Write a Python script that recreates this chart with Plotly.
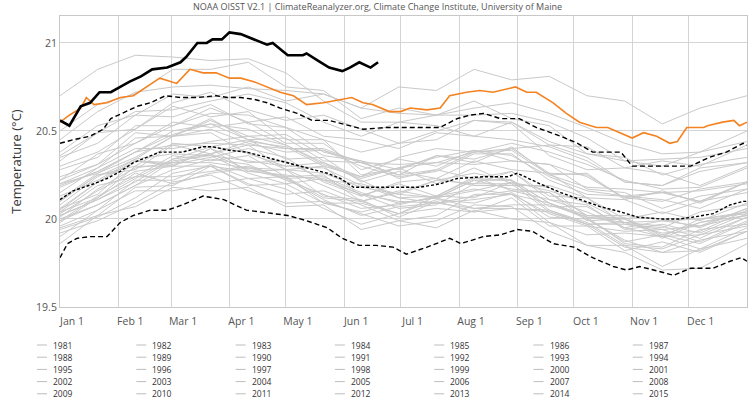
import plotly.graph_objects as go

# ---------------- data ----------------
MONTH_START_DAYS = [0, 31, 59, 90, 120, 151, 181, 212, 243, 273, 304, 334]
MONTH_LABELS = ["Jan 1", "Feb 1", "Mar 1", "Apr 1", "May 1", "Jun 1",
                "Jul 1", "Aug 1", "Sep 1", "Oct 1", "Nov 1", "Dec 1"]
Y_TICKS = [19.5, 20, 20.5, 21]
Y_TICK_LABELS = ["19.5", "20", "20.5", "21"]

# sample days for the grey climatology years
GRAY_DAYS = [0, 20, 40, 60, 80, 100, 120, 140, 160, 180, 200, 220, 240, 260, 280, 300, 320, 340, 365]

Y1981 = [19.98, 20.12, 20.26, 20.20, 20.26, 20.29, 20.24, 20.09, 20.04, 20.09, 20.12, 20.06, 20.08, 20.08, 20.01, 19.86, 19.84, 19.94, 19.97]
Y1982 = [19.95, 20.02, 20.18, 20.19, 20.30, 20.19, 20.20, 20.09, 20.09, 20.03, 20.13, 20.12, 20.21, 20.07, 20.07, 19.95, 19.99, 19.96, 20.06]
Y1983 = [20.08, 20.24, 20.34, 20.37, 20.36, 20.33, 20.30, 20.29, 20.19, 20.12, 20.09, 20.11, 20.14, 20.09, 20.00, 19.88, 19.81, 19.82, 19.93]
Y1984 = [19.92, 19.99, 20.09, 20.21, 20.25, 20.16, 20.09, 20.10, 20.03, 19.96, 19.99, 20.08, 20.07, 19.93, 19.85, 19.81, 19.71, 19.72, 19.86]
Y1985 = [19.86, 20.02, 20.07, 20.18, 20.16, 20.18, 20.07, 20.08, 19.94, 19.99, 19.95, 20.05, 20.00, 19.98, 19.85, 19.85, 19.73, 19.83, 19.89]
Y1986 = [19.90, 20.05, 20.16, 20.16, 20.20, 20.23, 20.17, 20.06, 19.97, 20.03, 20.06, 20.04, 20.06, 20.05, 19.98, 19.85, 19.83, 19.91, 19.96]
Y1987 = [20.02, 20.11, 20.23, 20.34, 20.41, 20.38, 20.28, 20.19, 20.10, 20.15, 20.22, 20.26, 20.22, 20.09, 20.01, 19.98, 19.99, 20.00, 20.03]
Y1988 = [20.06, 20.14, 20.33, 20.30, 20.40, 20.27, 20.28, 20.13, 20.11, 20.01, 20.10, 20.04, 20.12, 19.96, 19.96, 19.82, 19.87, 19.81, 19.93]
Y1989 = [19.94, 20.01, 20.12, 20.26, 20.30, 20.20, 20.14, 20.16, 20.08, 19.99, 20.02, 20.14, 20.14, 19.98, 19.91, 19.92, 19.90, 19.83, 19.95]
Y1990 = [20.04, 20.19, 20.24, 20.36, 20.33, 20.36, 20.24, 20.25, 20.10, 20.16, 20.12, 20.22, 20.17, 20.15, 20.02, 20.00, 19.91, 19.98, 20.04]
Y1991 = [20.03, 20.16, 20.27, 20.30, 20.30, 20.27, 20.25, 20.22, 20.14, 20.10, 20.09, 20.13, 20.16, 20.11, 20.04, 19.95, 19.90, 19.91, 20.01]
Y1992 = [19.99, 20.13, 20.24, 20.24, 20.27, 20.30, 20.23, 20.11, 20.02, 20.07, 20.09, 20.06, 20.06, 20.04, 19.97, 19.84, 19.81, 19.88, 19.93]
Y1993 = [19.96, 20.05, 20.22, 20.22, 20.31, 20.23, 20.24, 20.12, 20.10, 20.03, 20.11, 20.09, 20.15, 20.01, 20.00, 19.87, 19.91, 19.86, 19.98]
Y1994 = [20.02, 20.11, 20.21, 20.34, 20.37, 20.28, 20.23, 20.24, 20.15, 20.09, 20.12, 20.22, 20.22, 20.09, 20.02, 20.02, 20.00, 19.95, 20.06]
Y1995 = [20.10, 20.25, 20.28, 20.42, 20.37, 20.42, 20.28, 20.30, 20.13, 20.20, 20.13, 20.24, 20.16, 20.15, 19.99, 20.00, 19.89, 19.98, 20.02]
Y1996 = [19.99, 20.08, 20.19, 20.28, 20.34, 20.31, 20.22, 20.14, 20.06, 20.08, 20.13, 20.17, 20.14, 20.03, 19.96, 19.93, 19.94, 19.96, 20.02]
Y1997 = [20.05, 20.21, 20.33, 20.32, 20.37, 20.44, 20.41, 20.30, 20.24, 20.35, 20.40, 20.38, 20.40, 20.42, 20.35, 20.21, 20.19, 20.29, 20.32]
Y1998 = [20.35, 20.43, 20.59, 20.58, 20.65, 20.54, 20.52, 20.38, 20.33, 20.23, 20.28, 20.23, 20.27, 20.11, 20.08, 19.94, 19.97, 19.92, 20.03]
Y1999 = [20.00, 20.08, 20.19, 20.33, 20.36, 20.26, 20.20, 20.23, 20.14, 20.06, 20.08, 20.20, 20.20, 20.04, 19.97, 19.98, 19.96, 19.89, 20.01]
Y2000 = [20.01, 20.17, 20.29, 20.32, 20.32, 20.29, 20.28, 20.26, 20.18, 20.14, 20.12, 20.16, 20.21, 20.16, 20.09, 19.98, 19.92, 19.93, 20.05]
Y2001 = [20.10, 20.25, 20.30, 20.43, 20.41, 20.45, 20.34, 20.35, 20.21, 20.27, 20.23, 20.33, 20.28, 20.26, 20.12, 20.11, 20.03, 20.10, 20.15]
Y2002 = [20.18, 20.27, 20.38, 20.50, 20.54, 20.45, 20.40, 20.40, 20.32, 20.25, 20.28, 20.38, 20.39, 20.25, 20.18, 20.17, 20.15, 20.10, 20.21]
Y2003 = [20.24, 20.31, 20.49, 20.47, 20.57, 20.45, 20.46, 20.33, 20.32, 20.25, 20.36, 20.32, 20.41, 20.25, 20.26, 20.11, 20.16, 20.09, 20.21]
Y2004 = [20.19, 20.27, 20.38, 20.48, 20.54, 20.51, 20.42, 20.32, 20.24, 20.29, 20.35, 20.39, 20.36, 20.24, 20.16, 20.13, 20.15, 20.16, 20.20]
Y2005 = [20.22, 20.37, 20.43, 20.55, 20.52, 20.55, 20.43, 20.43, 20.28, 20.34, 20.30, 20.39, 20.33, 20.31, 20.17, 20.15, 20.06, 20.13, 20.17]
Y2006 = [20.15, 20.29, 20.40, 20.40, 20.44, 20.47, 20.42, 20.31, 20.23, 20.29, 20.32, 20.31, 20.33, 20.31, 20.24, 20.12, 20.10, 20.17, 20.21]
Y2007 = [20.20, 20.26, 20.35, 20.47, 20.49, 20.37, 20.30, 20.32, 20.22, 20.12, 20.13, 20.23, 20.22, 20.05, 19.97, 19.97, 19.94, 19.87, 19.99]
Y2008 = [20.04, 20.12, 20.30, 20.30, 20.40, 20.32, 20.33, 20.22, 20.20, 20.14, 20.22, 20.20, 20.27, 20.13, 20.12, 20.00, 20.04, 19.99, 20.09]
Y2009 = [20.11, 20.26, 20.38, 20.42, 20.43, 20.42, 20.40, 20.39, 20.32, 20.31, 20.32, 20.38, 20.43, 20.38, 20.31, 20.22, 20.17, 20.18, 20.29]
Y2010 = [20.33, 20.49, 20.51, 20.64, 20.58, 20.61, 20.45, 20.45, 20.25, 20.29, 20.20, 20.29, 20.20, 20.18, 20.01, 20.01, 19.90, 20.00, 20.04]
Y2011 = [20.06, 20.21, 20.33, 20.31, 20.35, 20.40, 20.35, 20.21, 20.13, 20.21, 20.23, 20.19, 20.19, 20.19, 20.12, 19.97, 19.95, 20.04, 20.08]
Y2012 = [20.13, 20.22, 20.34, 20.47, 20.51, 20.43, 20.38, 20.39, 20.30, 20.24, 20.27, 20.37, 20.37, 20.22, 20.14, 20.13, 20.11, 20.06, 20.17]
Y2013 = [20.20, 20.29, 20.46, 20.47, 20.56, 20.47, 20.48, 20.36, 20.33, 20.28, 20.36, 20.34, 20.40, 20.26, 20.25, 20.12, 20.15, 20.10, 20.21]
Y2014 = [20.22, 20.31, 20.43, 20.53, 20.60, 20.59, 20.52, 20.45, 20.38, 20.43, 20.50, 20.56, 20.55, 20.44, 20.37, 20.33, 20.34, 20.35, 20.40]
Y2015 = [20.38, 20.53, 20.59, 20.71, 20.69, 20.75, 20.67, 20.71, 20.63, 20.75, 20.73, 20.85, 20.79, 20.81, 20.70, 20.67, 20.54, 20.63, 20.70]
Y2016 = [20.70, 20.85, 20.93, 20.92, 20.90, 20.91, 20.83, 20.67, 20.55, 20.55, 20.53, 20.47, 20.45, 20.41, 20.33, 20.21, 20.19, 20.27, 20.32]
Y2017 = [20.30, 20.38, 20.51, 20.66, 20.72, 20.62, 20.56, 20.59, 20.51, 20.43, 20.45, 20.56, 20.54, 20.36, 20.28, 20.29, 20.26, 20.19, 20.30]
Y2018 = [20.28, 20.35, 20.53, 20.53, 20.63, 20.55, 20.58, 20.47, 20.45, 20.40, 20.49, 20.47, 20.55, 20.42, 20.41, 20.29, 20.33, 20.30, 20.42]
Y2019 = [20.45, 20.61, 20.72, 20.75, 20.76, 20.74, 20.73, 20.71, 20.63, 20.60, 20.59, 20.63, 20.66, 20.60, 20.52, 20.43, 20.37, 20.38, 20.50]
Y2020 = [20.50, 20.65, 20.71, 20.85, 20.85, 20.89, 20.75, 20.73, 20.57, 20.63, 20.59, 20.67, 20.57, 20.53, 20.37, 20.35, 20.25, 20.31, 20.35]
Y2021 = [20.36, 20.49, 20.61, 20.62, 20.67, 20.71, 20.66, 20.55, 20.47, 20.55, 20.59, 20.59, 20.60, 20.55, 20.46, 20.33, 20.30, 20.38, 20.44]

GRAY_YEARS = list(range(1981, 2022))
GRAY_SERIES = [Y1981, Y1982, Y1983, Y1984, Y1985, Y1986, Y1987, Y1988, Y1989, Y1990,
               Y1991, Y1992, Y1993, Y1994, Y1995, Y1996, Y1997, Y1998, Y1999, Y2000,
               Y2001, Y2002, Y2003, Y2004, Y2005, Y2006, Y2007, Y2008, Y2009, Y2010,
               Y2011, Y2012, Y2013, Y2014, Y2015, Y2016, Y2017, Y2018, Y2019, Y2020, Y2021]

# 1982-2011 mean
MEAN_DAYS = [0, 7, 18, 25, 32, 39, 46, 53, 65, 76, 81, 90, 99, 110, 121, 131, 142, 149, 156, 166,
             175, 191, 202, 211, 225, 238, 243, 255, 266, 276, 287, 298, 307, 319, 329, 336, 347, 356, 363, 365]
MEAN_VALS = [20.11, 20.16, 20.20, 20.23, 20.27, 20.32, 20.35, 20.38, 20.38, 20.41,
             20.41, 20.39, 20.38, 20.35, 20.32, 20.29, 20.26, 20.23, 20.18, 20.18,
             20.18, 20.18, 20.20, 20.23, 20.24, 20.24, 20.26, 20.20, 20.15, 20.11,
             20.07, 20.04, 20.01, 20.00, 20.00, 20.01, 20.03, 20.08, 20.10, 20.10]

# plus 2 sigma
UPPER_DAYS = [0, 7, 16, 23, 27, 33, 41, 48, 56, 64, 73, 83, 89, 96, 103, 110, 117, 126, 134, 143,
              153, 161, 174, 181, 191, 202, 211, 218, 225, 234, 244, 253, 266, 275, 283, 298, 304, 313, 324, 335,
              345, 354, 363, 365]
UPPER_VALS = [20.43, 20.45, 20.47, 20.51, 20.57, 20.60, 20.64, 20.66, 20.70, 20.69,
              20.69, 20.70, 20.69, 20.69, 20.68, 20.66, 20.63, 20.60, 20.56, 20.56,
              20.53, 20.51, 20.52, 20.52, 20.52, 20.52, 20.57, 20.59, 20.60, 20.57,
              20.57, 20.52, 20.47, 20.43, 20.38, 20.38, 20.30, 20.30, 20.30, 20.30,
              20.35, 20.38, 20.43, 20.42]

# minus 2 sigma
LOWER_DAYS = [0, 4, 9, 16, 25, 32, 39, 48, 57, 65, 76, 87, 99, 113, 121, 131, 142, 150, 159, 168,
              177, 184, 195, 207, 213, 225, 234, 243, 251, 262, 273, 283, 294, 301, 308, 319, 326, 335, 347, 356,
              362, 365]
LOWER_VALS = [19.78, 19.86, 19.89, 19.90, 19.90, 19.98, 20.02, 20.05, 20.05, 20.08,
              20.13, 20.11, 20.05, 20.03, 20.02, 19.99, 19.95, 19.89, 19.85, 19.85,
              19.84, 19.80, 19.84, 19.89, 19.86, 19.90, 19.91, 19.94, 19.93, 19.86,
              19.84, 19.78, 19.73, 19.71, 19.73, 19.70, 19.68, 19.72, 19.72, 19.76,
              19.78, 19.76]

# 2022 (orange)
Y2022_DAYS = [0, 5, 11, 14, 18, 25, 32, 39, 46, 53, 62, 69, 76, 83, 90, 96, 103, 110, 117, 124,
              131, 140, 149, 155, 161, 166, 175, 181, 186, 195, 202, 207, 216, 223, 230, 238, 242, 248, 253, 262,
              269, 276, 282, 285, 291, 298, 304, 310, 317, 324, 328, 333, 342, 344, 352, 358, 361, 365]
Y2022_VALS = [20.55, 20.59, 20.63, 20.69, 20.65, 20.66, 20.69, 20.70, 20.75, 20.80,
              20.77, 20.85, 20.83, 20.83, 20.80, 20.80, 20.78, 20.75, 20.72, 20.70,
              20.65, 20.66, 20.68, 20.69, 20.66, 20.65, 20.61, 20.61, 20.63, 20.62,
              20.63, 20.70, 20.72, 20.73, 20.72, 20.74, 20.75, 20.72, 20.72, 20.66,
              20.60, 20.55, 20.53, 20.52, 20.52, 20.49, 20.46, 20.49, 20.47, 20.43,
              20.44, 20.52, 20.52, 20.53, 20.55, 20.56, 20.53, 20.55]

# 2023 (black, to date)
Y2023_DAYS = [0, 5, 11, 16, 21, 27, 32, 37, 43, 49, 57, 64, 67, 73, 78, 81, 86, 90, 96, 103,
              110, 113, 121, 129, 131, 137, 143, 150, 154, 159, 165, 169]
Y2023_VALS = [20.56, 20.53, 20.64, 20.66, 20.72, 20.72, 20.75, 20.78, 20.81, 20.85,
              20.86, 20.89, 20.92, 21.00, 21.00, 21.02, 21.02, 21.06, 21.05, 21.02,
              20.99, 21.00, 20.93, 20.93, 20.94, 20.90, 20.86, 20.84, 20.86, 20.89,
              20.86, 20.89]

# legend entries visible in the reference picture
LEGEND_YEARS = list(range(1981, 2016))
TITLE_TEXT = "NOAA OISST V2.1 | ClimateReanalyzer.org, Climate Change Institute, University of Maine"
Y_TITLE = "Temperature (°C)"

# ---------------- figure ----------------
FONT = "Open Sans, DejaVu Sans, sans-serif"
GRAY = "#c9c9c9"

fig = go.Figure()
for yr, vals in zip(GRAY_YEARS, GRAY_SERIES):
    fig.add_trace(go.Scatter(x=GRAY_DAYS, y=vals, mode="lines", name=str(yr),
                             line=dict(color=GRAY, width=1), hoverinfo="skip"))

fig.add_trace(go.Scatter(x=UPPER_DAYS, y=UPPER_VALS, mode="lines", name="plus 2σ",
                         line=dict(color="black", width=1.4, dash="5px,3px")))
fig.add_trace(go.Scatter(x=LOWER_DAYS, y=LOWER_VALS, mode="lines", name="minus 2σ",
                         line=dict(color="black", width=1.4, dash="5px,3px")))
fig.add_trace(go.Scatter(x=MEAN_DAYS, y=MEAN_VALS, mode="lines", name="1982-2011 mean",
                         line=dict(color="black", width=1.4, dash="3px,2px")))
fig.add_trace(go.Scatter(x=Y2022_DAYS, y=Y2022_VALS, mode="lines", name="2022",
                         line=dict(color="#f58220", width=1.6)))
fig.add_trace(go.Scatter(x=Y2023_DAYS, y=Y2023_VALS, mode="lines", name="2023",
                         line=dict(color="black", width=2.6)))

# plot-area geometry in pixels (used only to place the custom legend / title)
L, R, T, B = 60, 7, 16, 93
W, H = 754, 400
PW, PH = W - L - R, H - T - B


def px_x(x):
    return (x - L) / PW


def px_y(y):
    return (H - B - y) / PH


annotations = []
shapes = []
for i, yr in enumerate(LEGEND_YEARS):
    col, row = i % 7, i // 7
    tx = 51 + 99.3 * col
    ty = 345 + 12.2 * row
    annotations.append(dict(text=str(yr), xref="paper", yref="paper",
                            x=px_x(tx), y=px_y(ty), xanchor="left", yanchor="middle",
                            showarrow=False, font=dict(family=FONT, size=8.5, color="#333")))
    shapes.append(dict(type="line", xref="paper", yref="paper",
                       x0=px_x(tx - 14), x1=px_x(tx - 4), y0=px_y(ty), y1=px_y(ty),
                       line=dict(color="#bdbdbd", width=1)))

annotations.append(dict(text=TITLE_TEXT, xref="paper", yref="paper",
                        x=px_x(377), y=px_y(6.5), xanchor="center", yanchor="middle",
                        showarrow=False, font=dict(family=FONT, size=9, color="#555")))

fig.update_layout(
    width=W, height=H,
    margin=dict(l=L, r=R, t=T, b=B, pad=0, autoexpand=False),
    paper_bgcolor="white", plot_bgcolor="white",
    showlegend=False,
    font=dict(family=FONT, color="#555"),
    annotations=annotations, shapes=shapes,
)
fig.update_xaxes(range=[0, 365], tickmode="array", tickvals=MONTH_START_DAYS, ticktext=MONTH_LABELS,
                 showgrid=True, gridcolor="#d4d4d4", gridwidth=1, zeroline=False,
                 showline=True, linecolor="#c8c8c8", linewidth=1, mirror=True,
                 ticks="", tickfont=dict(family=FONT, size=10.5, color="#555"),
                 ticklabelshift=12, ticklabelstandoff=4)
fig.update_yaxes(range=[19.5, 21.153], tickmode="array", tickvals=Y_TICKS, ticktext=Y_TICK_LABELS,
                 showgrid=True, gridcolor="#d4d4d4", gridwidth=1, zeroline=False,
                 showline=True, linecolor="#c8c8c8", linewidth=1, mirror=True,
                 ticks="", tickfont=dict(family=FONT, size=10.5, color="#555"),
                 ticklabelstandoff=0,
                 title=dict(text=Y_TITLE, font=dict(family=FONT, size=13, color="#333"), standoff=11))

fig.write_html("out.html", config={"displayModeBar": False},
               post_script="document.body.style.margin='0';")
